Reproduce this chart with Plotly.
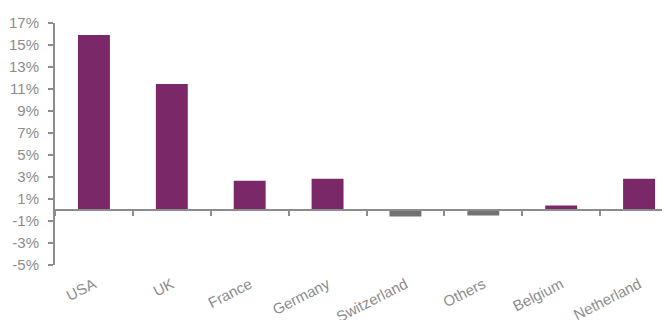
import plotly.graph_objects as go

categories = ["USA", "UK", "France", "Germany", "Switzerland", "Others", "Belgium", "Netherland"]
values = [15.9, 11.45, 2.65, 2.85, -0.6, -0.5, 0.4, 2.85]
y_ticks = list(range(-5, 18, 2))

POS = "#7B2868"
NEG = "#767171"
AX = "#8C8C8C"
FONT = dict(family="Liberation Sans, Arial, sans-serif", size=15, color="#8C8C8C")

colors = [POS if v >= 0 else NEG for v in values]

fig = go.Figure()
fig.add_trace(go.Bar(x=categories, y=values, marker=dict(color=colors, line=dict(width=0)),
                     xaxis="x", yaxis="y", showlegend=False, hoverinfo="x+y"))
fig.add_trace(go.Scatter(x=categories, y=values, mode="markers", marker=dict(opacity=0),
                         xaxis="x2", yaxis="y", showlegend=False, hoverinfo="skip"))

xr = [-0.5, 7.5]
ymin, ymax = -5, 17
fig.update_layout(
    width=670, height=320,
    margin=dict(l=47, r=0, t=15, b=63, autoexpand=False),
    paper_bgcolor="white", plot_bgcolor="white",
    bargap=0.59,
    font=FONT,
    xaxis=dict(type="category", categoryarray=categories, range=xr,
               anchor="free", position=(0 - ymin) / (ymax - ymin),
               showline=True, linecolor=AX, linewidth=2,
               ticks="outside", tickson="boundaries", ticklen=5, tickcolor=AX, tickwidth=2,
               showticklabels=False, showgrid=False, zeroline=False, automargin=False),
    xaxis2=dict(type="category", categoryarray=categories, range=xr,
                overlaying="x", anchor="y", side="bottom",
                showline=False, ticks="", showticklabels=True, tickangle=-27,
                ticklabelstandoff=7,
                tickfont=FONT, showgrid=False, zeroline=False, automargin=False),
    yaxis=dict(range=[ymin, ymax], tickmode="array", tickvals=y_ticks,
               ticktext=[f"{t}%" for t in y_ticks],
               showline=True, linecolor=AX, linewidth=2,
               ticks="outside", ticklen=5, tickcolor=AX, tickwidth=2,
               ticklabelstandoff=6,
               tickfont=FONT, showgrid=False, zeroline=False, automargin=False),
)

fig.write_html("out.html")
